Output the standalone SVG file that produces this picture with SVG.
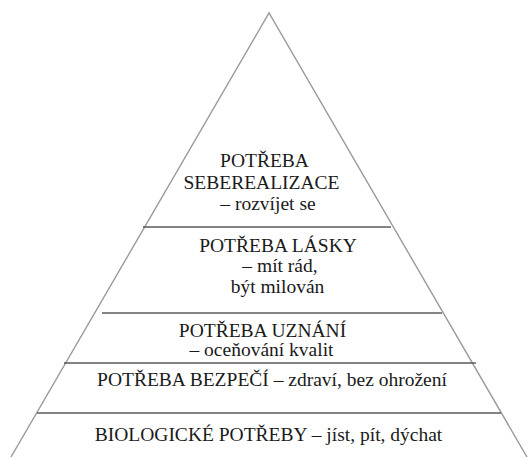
<svg xmlns="http://www.w3.org/2000/svg" width="529" height="457" viewBox="0 0 529 457">
<style>
.t{font-family:"Liberation Serif","Times New Roman",serif;font-size:19.5px;fill:#1a1a1a;text-anchor:middle}
.side{stroke:#9a9a9a;stroke-width:1.4;fill:none}
.div{stroke:#5a5a5a;stroke-width:1.4;fill:none}
</style>
<rect width="529" height="457" fill="#fff"/>
<g id="connectors">
<polyline class="side" points="11,457 269,13 527,457"/>
<line class="div" x1="143" y1="227" x2="391" y2="227"/>
<line class="div" x1="102" y1="313" x2="442" y2="313"/>
<line class="div" x1="64" y1="363" x2="476" y2="363"/>
<line class="div" x1="37" y1="413" x2="501" y2="413"/>
</g>
<g id="seberealizace">
<text class="t" x="264.5" y="167">POTŘEBA</text>
<text class="t" x="261.5" y="189">SEBEREALIZACE</text>
<text class="t" x="268" y="210">– rozvíjet se</text>
</g>
<g id="laska">
<text class="t" x="278" y="252">POTŘEBA LÁSKY</text>
<text class="t" x="280" y="272">– mít rád,</text>
<text class="t" x="277.5" y="293">být milován</text>
</g>
<g id="uznani">
<text class="t" x="262.5" y="337">POTŘEBA UZNÁNÍ</text>
<text class="t" x="261.5" y="356">– oceňování kvalit</text>
</g>
<g id="bezpeci">
<text class="t" x="272" y="386">POTŘEBA BEZPEČÍ – zdraví, bez ohrožení</text>
</g>
<g id="biologicke">
<text class="t" x="268.5" y="441">BIOLOGICKÉ POTŘEBY – jíst, pít, dýchat</text>
</g>
</svg>
